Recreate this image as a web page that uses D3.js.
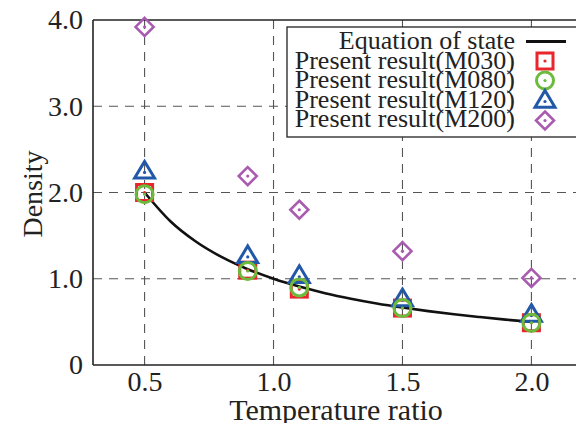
<!DOCTYPE html>
<html>
<head>
<meta charset="utf-8">
<script src="https://cdn.jsdelivr.net/npm/d3@7/dist/d3.min.js"></script>
<style>
  html, body { margin: 0; padding: 0; background: #fff; }
  svg { display: block; }
  text { font-family: "Liberation Serif", "Times New Roman", serif; fill: #222; }
</style>
</head>
<body>
<svg id="chart" width="576" height="423"></svg>
<script>
// Temperature ratios at which the simulations were run
const temps = [0.5, 0.9, 1.1, 1.5, 2.0];

// Density results for each case
const m030 = [2.00, 1.10, 0.88, 0.66, 0.49];
const m080 = [1.98, 1.09, 0.90, 0.66, 0.49];
const m120 = [2.25, 1.27, 1.04, 0.77, 0.59];
const m200 = [3.92, 2.19, 1.80, 1.32, 1.01];

// Equation of state curve (density vs temperature ratio)
const eosT = [0.5, 0.6, 0.7, 0.8, 0.9, 1.0, 1.1, 1.2, 1.3, 1.4, 1.5, 1.6, 1.7, 1.8, 1.9, 2.0];
const eosRho = [2.000, 1.667, 1.429, 1.250, 1.111, 1.000, 0.909, 0.833, 0.769, 0.714, 0.667, 0.625, 0.588, 0.556, 0.526, 0.500];

// Axis ticks
const xTicks = [0.5, 1.0, 1.5, 2.0];
const xTickLabels = ["0.5", "1.0", "1.5", "2.0"];
const yTicks = [0, 1, 2, 3, 4];
const yTickLabels = ["0", "1.0", "2.0", "3.0", "4.0"];

const seriesNames = ["Present result(M030)", "Present result(M080)", "Present result(M120)", "Present result(M200)"];

const svg = d3.select("#chart");
const pLeft = 93, pRight = 583, pTop = 20, pBottom = 365;

const x = d3.scaleLinear().domain([0.3, 2.2]).range([pLeft, pRight]);
const y = d3.scaleLinear().domain([0, 4]).range([pBottom, pTop]);

// Dashed grid
const grid = svg.append("g").attr("stroke", "#555").attr("stroke-width", 1.1)
  .attr("stroke-dasharray", "9,7");
grid.selectAll("line.v").data(xTicks).join("line").attr("class", "v")
  .attr("x1", d => x(d)).attr("x2", d => x(d))
  .attr("y1", pBottom).attr("y2", pTop);
grid.selectAll("line.h").data(yTicks.filter(d => d > 0 && d < 4)).join("line").attr("class", "h")
  .attr("y1", d => y(d)).attr("y2", d => y(d))
  .attr("x1", pLeft).attr("x2", pRight);

// Frame
const frame = svg.append("g").attr("stroke", "#222").attr("stroke-width", 1.6).attr("fill", "none");
frame.append("line").attr("x1", pLeft).attr("x2", pRight).attr("y1", pTop).attr("y2", pTop);
frame.append("line").attr("x1", pLeft).attr("x2", pRight).attr("y1", pBottom).attr("y2", pBottom);
frame.append("line").attr("x1", pLeft).attr("x2", pLeft).attr("y1", pTop).attr("y2", pBottom);

// Axes
const xAxis = d3.axisBottom(x).tickValues(xTicks).tickSize(0).tickPadding(6)
  .tickFormat((d, i) => xTickLabels[i]);
const gx = svg.append("g").attr("transform", `translate(0,${pBottom})`).call(xAxis);
gx.select(".domain").remove();
gx.selectAll("text").style("font-size", "28px").style("font-family", "Liberation Serif").attr("fill", "#222");

const yAxis = d3.axisLeft(y).tickValues(yTicks).tickSize(0).tickPadding(10)
  .tickFormat((d, i) => yTickLabels[i]);
const gy = svg.append("g").attr("transform", `translate(${pLeft},0)`).call(yAxis);
gy.select(".domain").remove();
gy.selectAll("text").style("font-size", "28px").style("font-family", "Liberation Serif").attr("fill", "#222");

// Axis titles
svg.append("text").attr("x", 336).attr("y", 420).attr("text-anchor", "middle")
  .style("font-size", "30px").text("Temperature ratio");
svg.append("text").attr("transform", `translate(42,194) rotate(-90)`)
  .attr("text-anchor", "middle").style("font-size", "28px").text("Density");

// Equation of state curve
const eos = eosT.map((t, i) => [t, eosRho[i]]);
svg.append("path").datum(eos)
  .attr("fill", "none").attr("stroke", "#111").attr("stroke-width", 2.6)
  .attr("d", d3.line().x(d => x(d[0])).y(d => y(d[1])).curve(d3.curveMonotoneX));

// Marker drawing helpers
const colors = ["#e8262b", "#6cbb3c", "#2258a8", "#a95bb0"];
function marker(g, kind, cx, cy, color) {
  const sw = 3;
  if (kind === 0) {
    g.append("rect").attr("x", cx - 8).attr("y", cy - 8).attr("width", 16).attr("height", 16)
      .attr("fill", "none").attr("stroke", color).attr("stroke-width", sw);
  } else if (kind === 1) {
    g.append("circle").attr("cx", cx).attr("cy", cy).attr("r", 8.5)
      .attr("fill", "none").attr("stroke", color).attr("stroke-width", sw);
  } else if (kind === 2) {
    const s = 9.5;
    g.append("path").attr("d", `M${cx},${cy - s}L${cx + s * 1.05},${cy + s * 0.75}L${cx - s * 1.05},${cy + s * 0.75}Z`)
      .attr("fill", "none").attr("stroke", color).attr("stroke-width", sw).attr("stroke-linejoin", "miter");
  } else {
    const s = 9;
    g.append("path").attr("d", `M${cx},${cy - s}L${cx + s},${cy}L${cx},${cy + s}L${cx - s},${cy}Z`)
      .attr("fill", "none").attr("stroke", color).attr("stroke-width", 2.6);
  }
  g.append("circle").attr("cx", cx).attr("cy", cy + (kind === 2 ? 1.5 : 0)).attr("r", 1.6).attr("fill", color);
}

const allSeries = [m030, m080, m120, m200];
const drawOrder = [3, 0, 2, 1];
drawOrder.forEach(k => {
  const g = svg.append("g");
  allSeries[k].forEach((v, i) => marker(g, k, x(temps[i]), y(v), colors[k]));
});

// Legend
const lg = svg.append("g");
lg.append("rect").attr("x", 287).attr("y", 27).attr("width", 292).attr("height", 110)
  .attr("fill", "#fff").attr("stroke", "#222").attr("stroke-width", 1.3);
const legendLabels = ["Equation of state"].concat(seriesNames);
legendLabels.forEach((t, i) => {
  const by = 49 + i * 19.5;
  lg.append("text").attr("x", 515).attr("y", by).attr("text-anchor", "end")
    .style("font-size", "26px").text(t);
  const cy = by - 7.5;
  if (i === 0) {
    lg.append("line").attr("x1", 526).attr("x2", 566).attr("y1", cy).attr("y2", cy)
      .attr("stroke", "#111").attr("stroke-width", 3);
  } else {
    marker(lg, i - 1, 545, cy + (i === 4 ? 1 : 0), colors[i - 1]);
  }
});
</script>
</body>
</html>
